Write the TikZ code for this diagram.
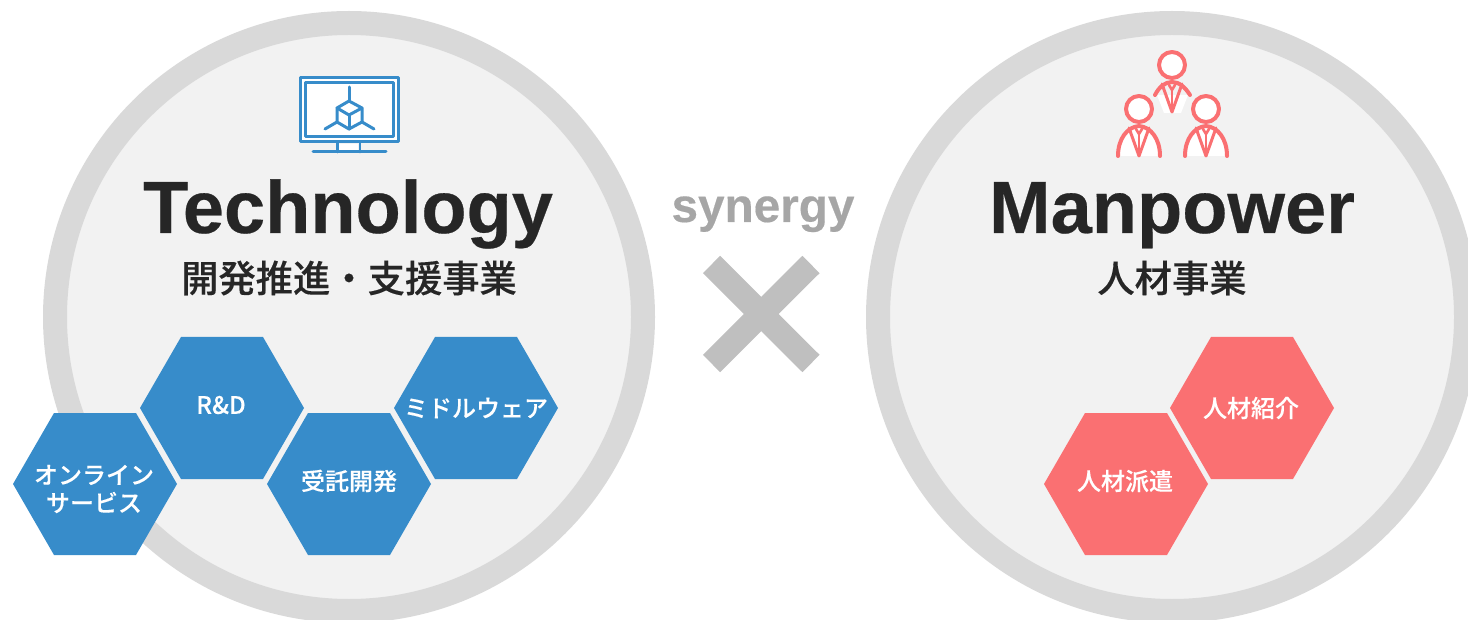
\documentclass[tikz,border=0pt]{standalone}
\usepackage{fontspec}
\setmainfont{Liberation Sans}
\newfontfamily\heavy[FakeBold=0.35]{Liberation Sans Bold}
\newfontfamily\cjkmed[FakeBold=0.25]{Noto Sans CJK JP Medium}
\definecolor{ringgray}{HTML}{D9D9D9}
\definecolor{discgray}{HTML}{F2F2F2}
\definecolor{techblue}{HTML}{378CCA}
\definecolor{manred}{HTML}{FA7072}
\definecolor{darktext}{HTML}{262626}
\definecolor{synergygray}{HTML}{A6A6A6}
\definecolor{crossgray}{HTML}{BFBFBF}
\tikzset{
  disc/.style={circle,draw=ringgray,fill=discgray,line width=24pt,minimum size=588pt,inner sep=0pt},
  bigtitle/.style={text=darktext,font=\fontsize{74}{74}\selectfont\heavy,inner sep=0pt},
  subtitle/.style={text=darktext,font=\fontsize{37.3}{44}\selectfont\cjkmed,inner sep=0pt},
  hexlabel/.style={text=white,font=\fontsize{24}{28}\selectfont\cjkmed,inner sep=0pt,align=center},
  hexshape/.style={fill=#1,draw=none},
  techline/.style={draw=techblue,line width=3pt,line join=round,line cap=round},
  manline/.style={draw=manred,line width=4pt,line join=round,line cap=round},
  crossbar/.style={draw=crossgray,line width=24.4pt},
}
\newcommand{\hexat}[3]{\fill[hexshape=#3] ($(#1,#2)+(-82,0)$) -- ++(41,-71) -- ++(82,0) -- ++(41,71) -- ++(-41,71) -- ++(-82,0) -- cycle;}
\newcommand{\personhead}[2]{\draw[manline,fill=white] (#1,#2) circle[radius=13];}
\newcommand{\persontie}[2]{%
  \begin{scope}[shift={(#1,#2)}]
    \draw[manline,line width=3pt] (-10,19) -- (0,47) -- (10,19);
    \draw[manline,line width=2.6pt] (-3,20) -- (0,25) -- (3,20);
    \draw[manline,line width=2.6pt] (0,25) -- (0,46);
  \end{scope}}
\newcommand{\personbody}[2]{%
  \begin{scope}[shift={(#1,#2)}]
    \fill[white] (-21,47) .. controls (-21,30) and (-12,18) .. (0,17) .. controls (12,18) and (21,30) .. (21,47) -- cycle;
    \draw[manline] (-21,47) .. controls (-21,30) and (-12,18) .. (0,17) .. controls (12,18) and (21,30) .. (21,47);
  \end{scope}\persontie{#1}{#2}}
\usetikzlibrary{calc}
\begin{document}
\begin{tikzpicture}[x=1pt,y=-1pt]
\useasboundingbox (0,0) rectangle (1468,620);
\begin{scope}
\clip (0,0) rectangle (1468,620);
\node[disc] (leftdisc) at (349,317) {};
\node[disc] (rightdisc) at (1172,317) {};
\end{scope}

% monitor icon
\draw[techline,fill=white] (300,78) rectangle (398,142);
\draw[techline,fill=white] (305,83) rectangle (393,137);
\fill[white] (339,144) rectangle (358,150);
\draw[techline,line width=2.8pt] (337.5,143) -- (337.5,152);
\draw[techline,line width=2.8pt] (360,143) -- (360,152);
\draw[techline] (313,152) -- (386,152);
\draw[techline] (349,101) -- (362,108) -- (362,122) -- (349,129) -- (337,122) -- (337,108) -- cycle;
\draw[techline] (337,108) -- (349,115) -- (362,108);
\draw[techline] (349,115) -- (349,129);
\draw[techline] (349,87) -- (349,101);
\draw[techline] (325,129) -- (337,122);
\draw[techline] (374,129) -- (362,122);

% people icon
\fill[white] (1157,95) -- (1164,113) -- (1181,113) -- (1188,95) -- cycle;
\draw[manline] (1155,95) .. controls (1159,87) and (1165,82) .. (1172,82) .. controls (1179,82) and (1185,87) .. (1190,95);
\persontie{1172}{65}
\personhead{1172}{65}
\personbody{1139}{109}
\personhead{1139}{109}
\personbody{1206}{109}
\personhead{1206}{109}

% titles
\node[bigtitle,anchor=base] (tech) at (348,233) {Technology};
\node[subtitle,anchor=center] (techsub) at (349,278) {開発推進・支援事業};
\node[bigtitle,anchor=base] (man) at (1172,233) {Manpower};
\node[subtitle,anchor=center] (mansub) at (1172,278) {人材事業};

% synergy and cross
\node[text=synergygray,font=\fontsize{47.7}{48}\selectfont\heavy,inner sep=0pt,anchor=base] (syn) at (763,222) {synergy};
\coordinate (xa) at (711.5,264.5);
\coordinate (xb) at (811,363.5);
\coordinate (xc) at (811,264.5);
\coordinate (xd) at (711.5,363.5);
\draw[crossbar] (xa) -- (xb);
\draw[crossbar] (xc) -- (xd);

% hexagons
\hexat{222}{408}{techblue}
\node[hexlabel] (rd) at (221,405) {R\&D};
\hexat{95}{484}{techblue}
\node[hexlabel] (online) at (94,489) {オンライン\\サービス};
\hexat{349}{484}{techblue}
\node[hexlabel] (jutaku) at (349,481) {受託開発};
\hexat{476}{408}{techblue}
\node[hexlabel] (middle) at (476,408) {ミドルウェア};
\hexat{1126}{484}{manred}
\node[hexlabel] (haken) at (1125,481) {人材派遣};
\hexat{1252}{408}{manred}
\node[hexlabel] (shokai) at (1251,408) {人材紹介};
\end{tikzpicture}
\end{document}
